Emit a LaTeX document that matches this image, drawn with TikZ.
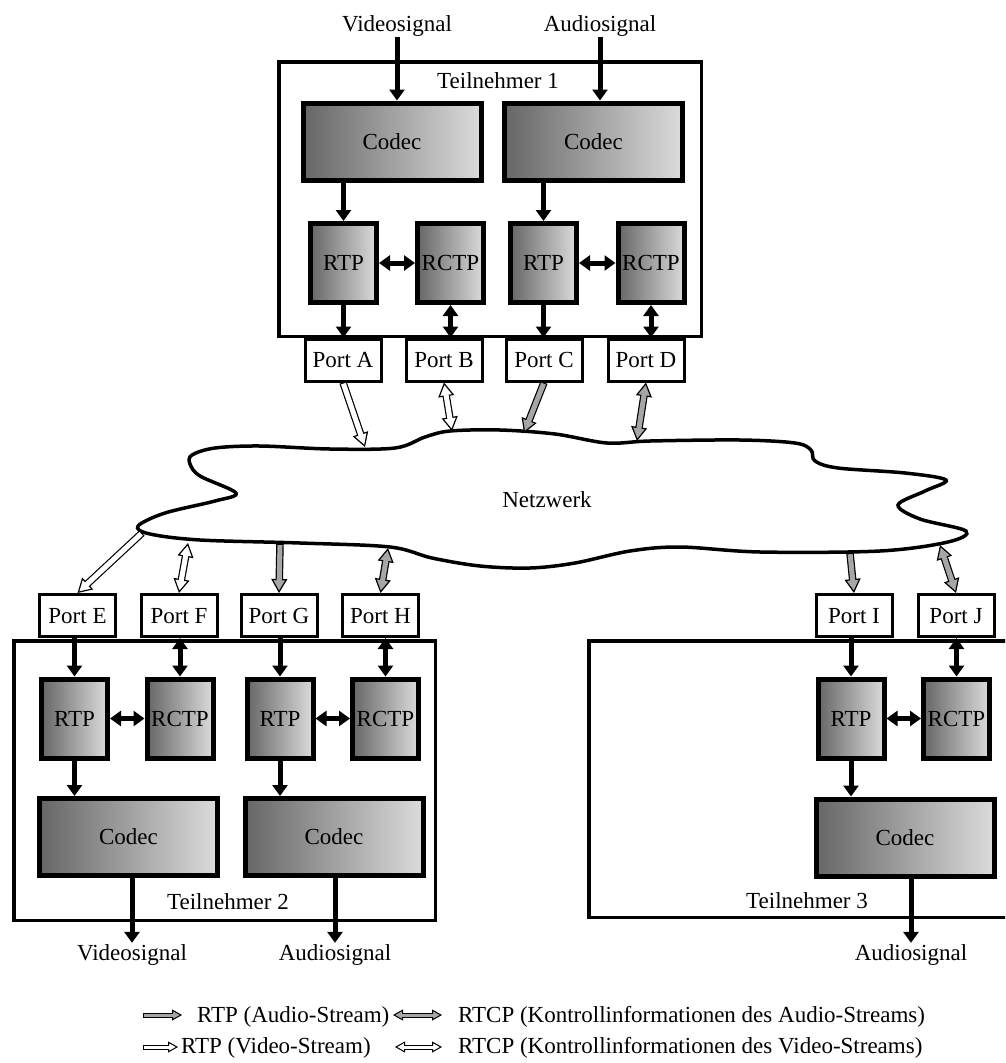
\documentclass[tikz,border=0pt]{standalone}
\usepackage{fontspec}
\setmainfont{Liberation Serif}
\usetikzlibrary{arrows.meta,calc}

% sizes of the outlined stream arrows
\def\flowouter{7.5pt}
\def\flowinner{5.1pt}
\def\flowedge{1.2pt}
\def\flowhead{14pt}
\def\flowwidth{16pt}
\def\flowcover{12pt}

% outlined arrow with one head: fill colour, from, to
\newcommand{\flowone}[3]{%
  \draw[line width=\flowouter,
        -{Triangle[length=\flowhead,width=\flowwidth,line width=\flowedge,fill=#1]}] (#2) -- (#3);
  \draw[line width=\flowinner, draw=#1, shorten <=\flowedge, shorten >=\flowcover] (#2) -- (#3);}
% outlined arrow with two heads
\newcommand{\flowtwo}[3]{%
  \draw[line width=\flowouter,
        {Triangle[length=\flowhead,width=\flowwidth,line width=\flowedge,fill=#1]}-{Triangle[length=\flowhead,width=\flowwidth,line width=\flowedge,fill=#1]}] (#2) -- (#3);
  \draw[line width=\flowinner, draw=#1, shorten <=\flowcover, shorten >=\flowcover] (#2) -- (#3);}

\colorlet{audiofill}{black!35}

\tikzset{
  every node/.style={font=\fontsize{23}{27}\selectfont},
  frame/.style={draw, line width=3.5pt, inner sep=0pt},
  unit/.style={draw, line width=5pt, left color=black!60, right color=black!14,
               inner sep=0pt, text height=15.5pt, text depth=0pt},
  codec/.style={unit, minimum width=178pt, minimum height=77pt},
  proto/.style={unit, minimum width=66pt, minimum height=79pt},
  port/.style={draw, line width=3pt, fill=white, inner sep=0pt,
               minimum width=76pt, minimum height=42pt, text height=15.5pt, text depth=0pt},
  lbl/.style={inner sep=1pt, anchor=base},
  sig/.style={line width=5pt, -{Triangle[length=11pt,width=15pt]}},
  sigboth/.style={line width=5pt, {Triangle[length=11pt,width=15pt]}-{Triangle[length=11pt,width=15pt]}},
}

\begin{document}
\begin{tikzpicture}[x=1pt, y=-1pt]
\useasboundingbox (0,0) rectangle (1005,1063);
\clip (0,0) rectangle (1005,1063);

% ---------- participant frames ----------
\node[frame, minimum width=422.5pt, minimum height=274.5pt] (t1) at (490,199) {};
\node[frame, minimum width=421.5pt, minimum height=279.5pt] (t2) at (224.5,780.5) {};
\node[frame, minimum width=431.25pt, minimum height=276.5pt] (t3) at (804.4,779) {};

\node[lbl] (t1lbl) at (498,88) {Teilnehmer 1};
\node[lbl] (t2lbl) at (228,909) {Teilnehmer 2};
\node[lbl] (t3lbl) at (807,908) {Teilnehmer 3};

% ---------- participant 1 (sender) ----------
\node[lbl] (vin) at (397,31) {Videosignal};
\node[lbl] (ain) at (600,31) {Audiosignal};

\node[codec] (cv1) at (392,141.5) {Codec};
\node[codec] (ca1) at (593.5,141.5) {Codec};
\node[proto] (rv1) at (343.5,263) {RTP};
\node[proto] (kv1) at (450.5,263) {RCTP};
\node[proto] (ra1) at (543.5,263) {RTP};
\node[proto] (ka1) at (651,263) {RCTP};

\node[port] (pA) at (343,360) {Port A};
\node[port] (pB) at (444,360) {Port B};
\node[port] (pC) at (544,360) {Port C};
\node[port] (pD) at (646,360) {Port D};

\draw[sig] (vin.south) -- (vin.south |- cv1.north);
\draw[sig] (ain.south) -- (ain.south |- ca1.north);
\draw[sig] (cv1.south -| rv1) -- (rv1.north);
\draw[sig] (ca1.south -| ra1) -- (ra1.north);
\draw[sigboth] (rv1.east) -- (kv1.west);
\draw[sigboth] (ra1.east) -- (ka1.west);
\draw[sig] (rv1.south) -- (rv1.south |- pA.north);
\draw[sigboth] (kv1.south) -- (kv1.south |- pB.north);
\draw[sig] (ra1.south) -- (ra1.south |- pC.north);
\draw[sigboth] (ka1.south) -- (ka1.south |- pD.north);

% ---------- participant 2 (receiver) ----------
\node[port] (pE) at (77.5,615.5) {Port E};
\node[port] (pF) at (179,615.5) {Port F};
\node[port] (pG) at (279,615.5) {Port G};
\node[port] (pH) at (380.5,615.5) {Port H};

\node[proto] (rv2) at (74.5,718.5) {RTP};
\node[proto] (kv2) at (180,718.5) {RCTP};
\node[proto] (ra2) at (280,718.5) {RTP};
\node[proto] (ka2) at (385.5,718.5) {RCTP};
\node[codec] (cv2) at (128.5,837) {Codec};
\node[codec] (ca2) at (334,837) {Codec};

\node[lbl] (vout) at (132,960) {Videosignal};
\node[lbl] (aout) at (335,960) {Audiosignal};

\draw[sig] (pE.south -| rv2) -- (rv2.north);
\draw[sigboth] (pF.south -| kv2) -- (kv2.north);
\draw[sig] (pG.south -| ra2) -- (ra2.north);
\draw[sigboth] (pH.south -| ka2) -- (ka2.north);
\draw[sigboth] (rv2.east) -- (kv2.west);
\draw[sigboth] (ra2.east) -- (ka2.west);
\draw[sig] (rv2.south) -- (rv2.south |- cv2.north);
\draw[sig] (ra2.south) -- (ra2.south |- ca2.north);
\draw[sig] (cv2.south -| vout) -- (vout.north);
\draw[sig] (ca2.south -| aout) -- (aout.north);

% ---------- participant 3 (receiver) ----------
\node[port] (pI) at (854,615.5) {Port I};
\node[port] (pJ) at (956,615.5) {Port J};
\node[proto] (ra3) at (851,718.5) {RTP};
\node[proto] (ka3) at (956.5,718.5) {RCTP};
\node[codec] (ca3) at (905,837.5) {Codec};
\node[lbl] (aout3) at (911,960) {Audiosignal};

\draw[sig] (pI.south -| ra3) -- (ra3.north);
\draw[sigboth] (pJ.south -| ka3) -- (ka3.north);
\draw[sigboth] (ra3.east) -- (ka3.west);
\draw[sig] (ra3.south) -- (ra3.south |- ca3.north);
\draw[sig] (ca3.south -| aout3) -- (aout3.north);

% ---------- network cloud ----------
\draw[line width=3.5pt] plot[smooth cycle, tension=0.55] coordinates {
  (192,455) (215,448) (260,446) (330,449) (395,448) (425,437) (450,431)
  (500,430) (555,434) (607,443) (650,441) (740,440) (795,443) (811,450)
  (815,461) (838,468) (905,473) (946,480) (925,491) (898,505) (920,519)
  (966,531) (948,542) (880,551) (760,552) (680,547) (630,551) (575,563)
  (530,568) (480,566) (432,558) (390,547) (300,543) (200,540) (150,534)
  (138,526) (165,513) (215,501) (236,493) (200,476) (190,464)};
\node[lbl] (net) at (547,507) {Netzwerk};

\coordinate (cA) at (365,447);
\coordinate (cB) at (452,431);
\coordinate (cC) at (524,433);
\coordinate (cD) at (637,441);
\coordinate (cE) at (142,533);
\coordinate (cF) at (188,543);
\coordinate (cG) at (280,544);
\coordinate (cH) at (388,548);
\coordinate (cI) at (850,553);
\coordinate (cJ) at (940,545);

% ---------- streams between ports and network ----------
\flowone{white}{pA.south}{cA}
\flowtwo{white}{pB.south}{cB}
\flowone{audiofill}{pC.south}{cC}
\flowtwo{audiofill}{pD.south}{cD}
\flowone{white}{cE}{pE.north}
\flowtwo{white}{cF}{pF.north}
\flowone{audiofill}{cG}{pG.north}
\flowtwo{audiofill}{cH}{pH.north}
\flowone{audiofill}{cI}{pI.north}
\flowtwo{audiofill}{cJ}{pJ.north}

% ---------- legend ----------
\def\flowouter{5pt}
\def\flowinner{3pt}
\def\flowedge{1pt}
\def\flowhead{10pt}
\def\flowwidth{11pt}
\def\flowcover{8pt}
\coordinate (l1a) at (143,1015);
\coordinate (l1b) at (182,1015);
\coordinate (l1c) at (393,1015);
\coordinate (l1d) at (442,1015);
\coordinate (l2a) at (143,1047);
\coordinate (l2b) at (178,1047);
\coordinate (l2c) at (395,1047);
\coordinate (l2d) at (442,1047);
\flowone{audiofill}{l1a}{l1b}
\flowtwo{audiofill}{l1c}{l1d}
\flowone{white}{l2a}{l2b}
\flowtwo{white}{l2c}{l2d}
\node[lbl, anchor=base west, inner sep=0pt] (leg1) at (197,1022) {RTP (Audio-Stream)};
\node[lbl, anchor=base west, inner sep=0pt] (leg2) at (458,1022) {RTCP (Kontrollinformationen des Audio-Streams)};
\node[lbl, anchor=base west, inner sep=0pt] (leg3) at (181,1053) {RTP (Video-Stream)};
\node[lbl, anchor=base west, inner sep=0pt] (leg4) at (458,1053) {RTCP (Kontrollinformationen des Video-Streams)};
\end{tikzpicture}
\end{document}
